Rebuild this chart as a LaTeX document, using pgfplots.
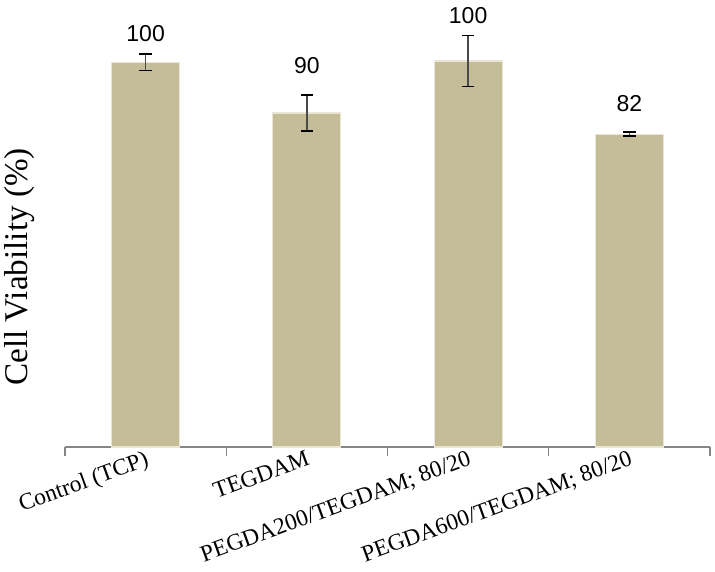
\documentclass[border=0pt]{standalone}
\usepackage{fontspec}
\setmainfont{Liberation Serif}
\newfontfamily\labelfont{Liberation Sans}
\usepackage{pgfplots}
\usepackage{pgfplotstable}
\pgfplotsset{compat=1.18}

\definecolor{barfill}{HTML}{C4BD97}
\definecolor{baredge}{HTML}{E9E6D6}
\definecolor{axisgray}{HTML}{868686}
\definecolor{errgray}{HTML}{4A4A4A}

% bar heights and error half-widths
\pgfplotstableread{
x y err
0 100.0 2.2
1 86.8 4.7
2 100.3 6.6
3 81.3 0.5
}\viability

% printed values and where they sit
\pgfplotstableread{
x ypos label
0 107.5 100
1 99.2 90
2 112.2 100
3 89.2 82
}\valuelabels

\begin{document}
\begin{tikzpicture}
\useasboundingbox (-32.5pt,-62pt) rectangle (325pt,223.5pt);
\begin{axis}[
    scale only axis,
    width=322.5pt, height=215.5pt,
    xmin=-0.5, xmax=3.5,
    ymin=0, ymax=112,
    clip=false,
    axis x line*=bottom,
    axis y line*=left,
    y axis line style={draw=none},
    ytick=\empty,
    x axis line style={axisgray, line width=0.6pt, -},
    xtick={0,1,2,3},
    xticklabels={Control (TCP), TEGDAM, PEGDA200/TEGDAM; 80/20, PEGDA600/TEGDAM; 80/20},
    major x tick style={draw=none},
    minor xtick={-0.5,0.5,1.5,2.5,3.5},
    minor x tick style={axisgray, line width=0.6pt},
    minor tick length=4.5pt,
    major tick length=0pt,
    tick align=outside,
    xticklabel style={rotate=20, anchor=north east, inner sep=1pt,
        font=\fontsize{11.7}{13}\selectfont},
    ylabel={Cell Viability (\%)},
    every axis y label/.style={at={(axis description cs:-0.07,0.418)},
        rotate=90, anchor=center, font=\fontsize{16.6}{18}\selectfont},
]
\addplot[ybar, bar width=34pt, bar shift=0pt, fill=barfill, draw=baredge, line width=0.6pt,
    error bars/.cd, y dir=both, y explicit,
    error bar style={errgray, line width=0.8pt},
    error mark options={black, rotate=90, mark size=3.1pt, line width=0.8pt}]
    table[x=x, y=y, y error=err] {\viability};
\addplot[only marks, mark=none, nodes near coords, point meta=explicit symbolic,
    nodes near coords style={anchor=center, text=black,
        font=\labelfont\fontsize{11.5}{13}\selectfont}]
    table[x=x, y=ypos, meta=label] {\valuelabels};
\end{axis}
\end{tikzpicture}
\end{document}
